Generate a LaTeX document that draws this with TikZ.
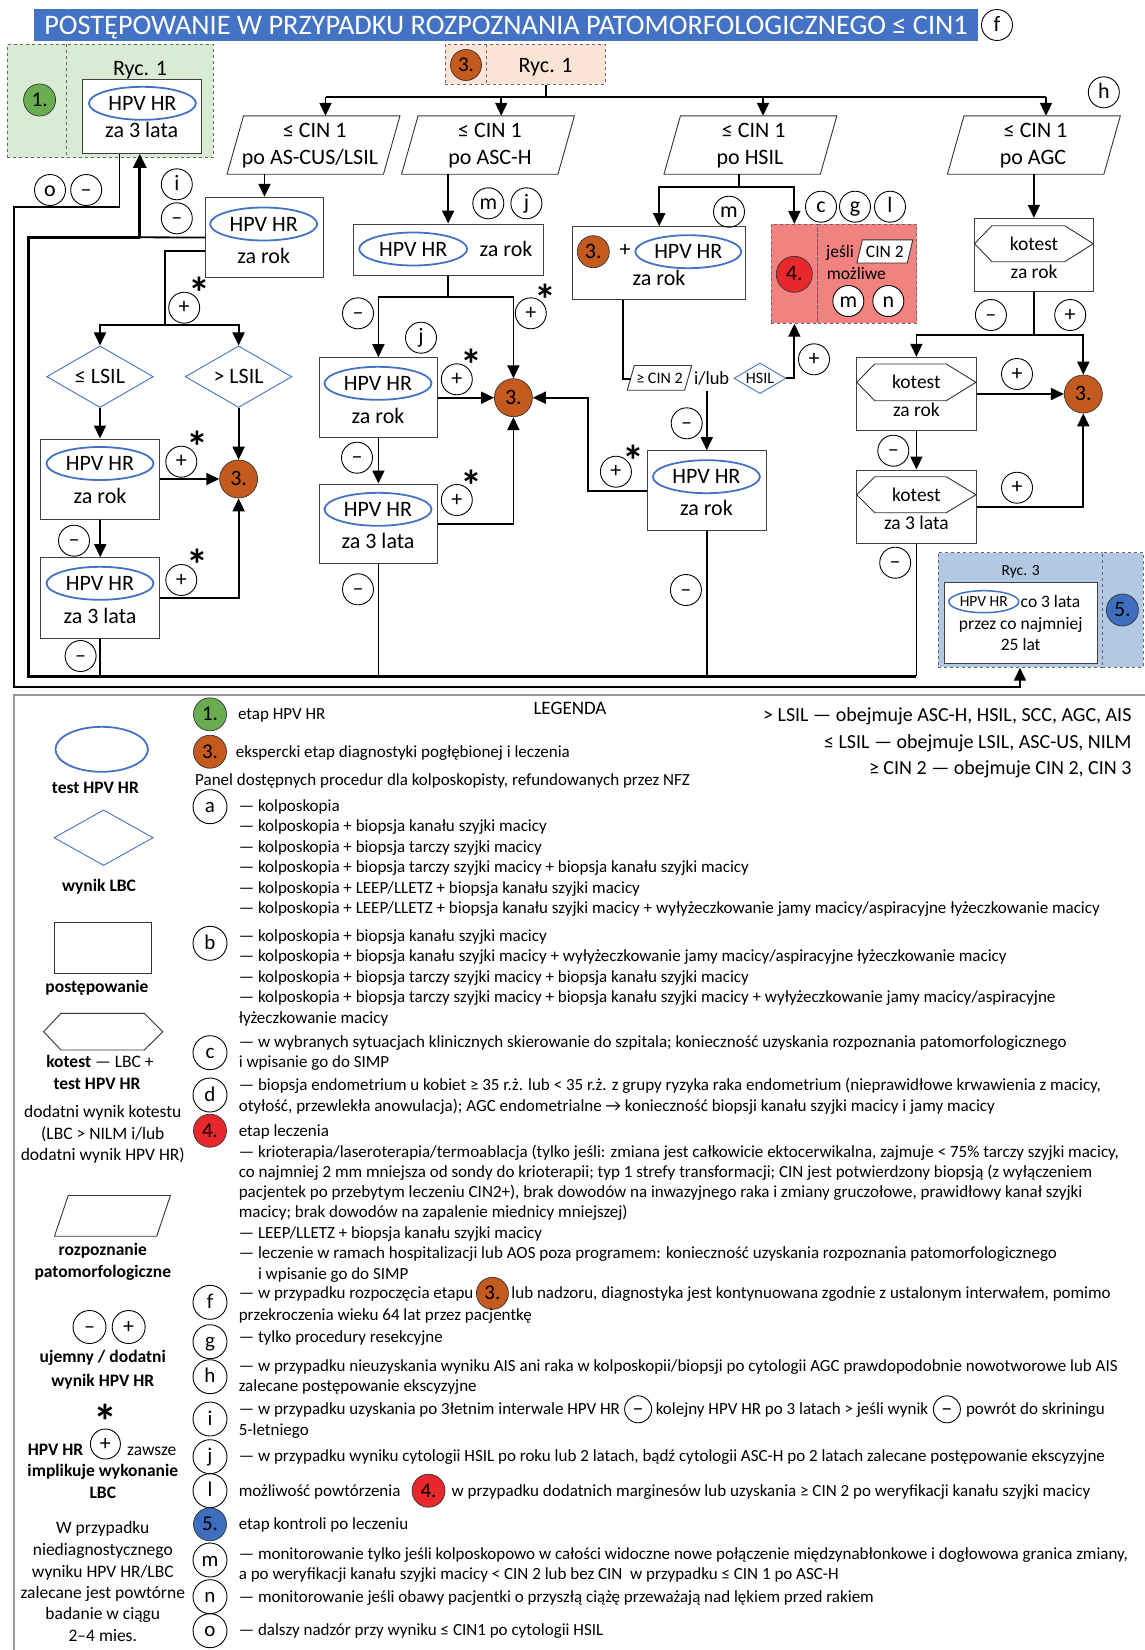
\documentclass[tikz,border=0pt]{standalone}
\usepackage{fontspec}
\setmainfont{Carlito}
\usetikzlibrary{arrows.meta,shapes.geometric,positioning,calc}
\newcommand\fsz[1]{\fontsize{#1}{#1}\selectfont}
\definecolor{hpvblue}{RGB}{68,114,196}
\definecolor{titleblue}{RGB}{68,114,196}
\definecolor{cgreen}{RGB}{106,172,80}
\definecolor{corange}{RGB}{197,90,31}
\definecolor{cred}{RGB}{232,40,44}
\definecolor{cblue}{RGB}{62,110,190}
\definecolor{fgreen}{RGB}{217,236,211}
\definecolor{fpeach}{RGB}{251,228,213}
\definecolor{fsalmon}{RGB}{242,130,128}
\definecolor{fblue}{RGB}{178,200,227}
\definecolor{lgray}{RGB}{150,150,150}
\tikzset{
  ln/.style={line width=1.8pt},
  arr/.style={line width=1.8pt,-{Triangle[length=13pt,width=12pt]}},
  thk/.style={line width=3pt},
  thkarr/.style={line width=3pt,-{Triangle[length=14pt,width=13pt]}},
  box/.style={draw=black!75,line width=1pt,fill=white,inner sep=0pt},
  frame/.style={draw=black!60,dashed,line width=0.8pt,inner sep=0pt},
  pline/.style={draw=black!80,line width=0.9pt,fill=white},
  hexl/.style={draw=black!80,line width=0.9pt},
  lab/.style={circle,draw,line width=0.9pt,minimum size=31pt,inner sep=0pt,font=\fsz{22},text height=12pt,text depth=0pt},
  numc/.style={circle,draw=black!80,line width=0.7pt,minimum size=32pt,inner sep=0pt,font=\fsz{21},text height=13pt,text depth=0pt},
  hpv/.style={ellipse,draw=hpvblue,line width=1.8pt,minimum width=107pt,minimum height=33pt,inner sep=0pt,font=\fsz{22},text height=14pt,text depth=0pt},
  dia/.style={diamond,draw=hpvblue,line width=0.9pt,inner sep=0pt},
  t22/.style={inner sep=0pt,font=\fsz{22},text height=14pt,text depth=0pt},
  t19/.style={inner sep=0pt,font=\fsz{19.5},text height=12.5pt,text depth=0pt},
  t17/.style={inner sep=0pt,font=\fsz{17.5},text height=11.5pt,text depth=0pt},
  t16/.style={inner sep=0pt,font=\fsz{16},text height=10.5pt,text depth=0pt},
  star/.style={inner sep=0pt,font=\bfseries\fsz{44},text height=16pt,text depth=0pt,yshift=-15.3pt},
  lt/.style={anchor=west,inner sep=0pt,font=\fsz{17},text height=11pt,text depth=0pt},
  rt/.style={anchor=east,inner sep=0pt,font=\fsz{20},text height=13pt,text depth=0pt},
  lc/.style={inner sep=0pt,font=\fsz{17.5},text height=11.5pt,text depth=0pt},
  lcb/.style={inner sep=0pt,font=\bfseries\fsz{17.5},text height=11.5pt,text depth=0pt},
  lab2/.style={lab,minimum size=34pt,font=\fsz{21}},
}
\newcommand\paral[6]{%
  \node[inner sep=0pt,minimum width=#4pt,minimum height=#5pt] (#1) at (#2,#3) {};
  \draw[pline] ($(#1.south west)+(-#6/2,0)$) -- ($(#1.north west)+(#6/2,0)$) -- ($(#1.north east)+(#6/2,0)$) -- ($(#1.south east)+(-#6/2,0)$) -- cycle;}
\begin{document}
\begin{tikzpicture}[x=1pt,y=-1pt]
\useasboundingbox (0,0) rectangle (1144,1650);
\fill[white] (0,0) rectangle (1144,1650);
% ---------- title
\node[fill=titleblue,text=white,minimum width=944pt,minimum height=32pt,inner sep=0pt,font=\fsz{28.3},text height=18pt,text depth=0pt] (title) at (506,25.2) {POSTĘPOWANIE W PRZYPADKU ROZPOZNANIA PATOMORFOLOGICZNEGO ≤ CIN1};
\node[lab] (lf) at (997,25) {f};
% ---------- green stage 1
\node[frame,fill=fgreen,minimum width=206pt,minimum height=113.4pt] (gfr) at (110.4,101) {};
\draw[frame] (66.6,44.3) -- (66.6,157.7);
\node[numc,fill=cgreen] (n1) at (39.6,100) {1.};
\node[t22] (ryc1a) at (140,68) {Ryc. 1};
\node[box,minimum width=118.7pt,minimum height=74.3pt] (G1) at (142.25,116.15) {};
\node[hpv] (G1e) at (142.4,103.3) {HPV HR};
\node[t22] (G1t) at (141.7,130.7) {za 3 lata};
% ---------- orange stage 3
\node[frame,fill=fpeach,minimum width=160pt,minimum height=40pt] (ofr) at (525,64.3) {};
\draw[frame] (486.4,44.3) -- (486.4,84.3);
\node[numc,fill=corange,minimum size=31pt] (n3a) at (466,65) {3.};
\node[t22] (ryc1b) at (545.6,65) {Ryc. 1};
% ---------- parallelograms
\paral{pA}{313.5}{145}{156}{58}{16.5}
\paral{pB}{488}{145}{156}{58}{16.5}
\paral{pC}{750.4}{145}{156}{58}{16.5}
\paral{pD}{1033.9}{145}{156}{58}{16.5}
\node[t22] (pA1) at (314.8,130) {≤ CIN 1};
\node[t22] (pA2) at (310,157.7) {po AS-CUS/LSIL};
\node[t22] (pB1) at (490,130) {≤ CIN 1};
\node[t22] (pB2) at (490,157.7) {po ASC-H};
\node[t22] (pC1) at (753.7,130) {≤ CIN 1};
\node[t22] (pC2) at (750,157.7) {po HSIL};
\node[t22] (pD1) at (1035.6,130) {≤ CIN 1};
\node[t22] (pD2) at (1033,157.7) {po AGC};
\node[lab] (lh) at (1103.8,92.3) {h};
% ---------- AS-CUS branch
\node[box,minimum width=118.4pt,minimum height=80.4pt] (bA) at (264.5,237.5) {};
\node[hpv] (bAe) at (263.7,224) {HPV HR};
\node[t22] (bAt) at (263.7,256) {za rok};
\node[dia,minimum width=106.6pt,minimum height=61.6pt] (dL) at (100,376.7) {};
\node[t22] (dLt) at (100,376.7) {≤ LSIL};
\node[dia,minimum width=106.6pt,minimum height=61.6pt] (dG) at (238.6,376.7) {};
\node[t22] (dGt) at (238.6,376.7) {> LSIL};
\node[box,minimum width=119.1pt,minimum height=80pt] (bL1) at (100.25,479) {};
\node[hpv] (bL1e) at (100,463.5) {HPV HR};
\node[t22] (bL1t) at (100,496.7) {za rok};
\node[box,minimum width=119.1pt,minimum height=80.6pt] (bL2) at (100.25,598) {};
\node[hpv] (bL2e) at (100,583.3) {HPV HR};
\node[t22] (bL2t) at (100,616) {za 3 lata};
\node[numc,fill=corange,minimum size=38pt,font=\fsz{22}] (c3L) at (238.6,479) {3.};
% ---------- ASC-H branch
\node[box,minimum width=189.7pt,minimum height=51pt] (bB) at (448.15,249.5) {};
\node[hpv,minimum width=108pt] (bBe) at (413.2,249) {HPV HR};
\node[t22] (bBt) at (506,249) {za rok};
\node[box,minimum width=118.4pt,minimum height=80pt] (bM1) at (378.4,397.7) {};
\node[hpv] (bM1e) at (378,383.3) {HPV HR};
\node[t22] (bM1t) at (378,416) {za rok};
\node[box,minimum width=118.4pt,minimum height=79.3pt] (bM2) at (378.4,523.65) {};
\node[hpv] (bM2e) at (378,509.3) {HPV HR};
\node[t22] (bM2t) at (378,541.7) {za 3 lata};
\node[numc,fill=corange,minimum size=38pt,font=\fsz{22}] (c3M) at (513.4,397.7) {3.};
% ---------- HSIL branch
\node[box,minimum width=173pt,minimum height=72.6pt] (bH1) at (659.2,263) {};
\node[numc,fill=corange,minimum size=32pt,font=\fsz{22}] (bH1n) at (593.3,251.7) {3.};
\node[t22] (bH1p) at (625,249.3) {+};
\node[hpv,minimum width=106pt] (bH1e) at (688.3,251.7) {HPV HR};
\node[t22] (bH1t) at (659,278.3) {za rok};
\node[frame,fill=fsalmon,minimum width=46.7pt,minimum height=99pt] (rL) at (794.35,273.8) {};
\node[frame,fill=fsalmon,minimum width=99pt,minimum height=99pt] (rR) at (867.2,273.8) {};
\node[numc,fill=cred,minimum size=36pt,font=\fsz{22}] (n4a) at (794.3,274.3) {4.};
\node[t17,anchor=west] (rj) at (826,251.7) {jeśli};
\paral{pF}{884.85}{251.4}{50}{22.7}{5.5}
\node[t17] (pFt) at (884.85,251.4) {CIN 2};
\node[t17,anchor=west] (rmoz) at (826.7,274) {możliwe};
\node[lab,fill=white] (lmR) at (848.3,301) {m};
\node[lab,fill=white] (lnR) at (888.3,301) {n};
\paral{pE}{659.5}{377.85}{57}{24.3}{7}
\node[t16] (pEt) at (659.5,378) {≥ CIN 2};
\node[inner sep=0pt,font=\fsz{18.5},text height=12pt,text depth=0pt] (ilub) at (711.7,378) {i/lub};
\node[dia,minimum width=52pt,minimum height=30.6pt] (dH) at (760,378.3) {};
\node[t16] (dHt) at (760,378.3) {HSIL};
\node[box,minimum width=118.5pt,minimum height=80pt] (bH2) at (706.75,490.7) {};
\node[hpv] (bH2e) at (706.4,476.7) {HPV HR};
\node[t22] (bH2t) at (706.4,508.3) {za rok};
% ---------- AGC branch
\node[box,minimum width=118.8pt,minimum height=73.4pt] (bK0) at (1033.9,255) {};
\draw[hexl] (974.5,243.7) -- (992,225.7) -- (1064.7,225.7) -- (1093.3,243.7) -- (1064.7,261.7) -- (992,261.7) -- cycle;
\node[t19] (bK0a) at (1034,244.3) {kotest};
\node[t19] (bK0b) at (1034,272.7) {za rok};
\node[box,minimum width=119.2pt,minimum height=73.4pt] (bK1) at (916.4,394) {};
\draw[hexl] (856.8,382.3) -- (874.7,364) -- (946.2,364) -- (976,382.3) -- (946.2,400.7) -- (874.7,400.7) -- cycle;
\node[t19] (bK1a) at (916.4,382.3) {kotest};
\node[t19] (bK1b) at (916.4,410) {za rok};
\node[box,minimum width=119.2pt,minimum height=73.3pt] (bK2) at (916.4,506.65) {};
\draw[hexl] (856.8,494.7) -- (874.7,476.7) -- (946.2,476.7) -- (976,494.7) -- (946.2,512.7) -- (874.7,512.7) -- cycle;
\node[t19] (bK2a) at (916.4,495) {kotest};
\node[t19] (bK2b) at (916.4,523.3) {za 3 lata};
\node[numc,fill=corange,minimum size=38pt,font=\fsz{22}] (c3K) at (1083.3,394) {3.};
% ---------- Ryc. 3 stage 5
\node[frame,fill=fblue,minimum width=163.9pt,minimum height=114.6pt] (R3L) at (1019.95,610) {};
\node[frame,fill=fblue,minimum width=41.1pt,minimum height=114.6pt] (R3R) at (1122.45,610) {};
\node[inner sep=0pt,font=\fsz{15.5},text height=10pt,text depth=0pt] (R3t) at (1020.7,570) {Ryc. 3};
\node[box,minimum width=152.6pt,minimum height=80.6pt] (R3b) at (1020.7,623) {};
\node[ellipse,draw=hpvblue,line width=1.5pt,minimum width=70pt,minimum height=22pt,inner sep=0pt,font=\fsz{15.5},text height=10pt,text depth=0pt] (R3e) at (983.8,601.7) {HPV HR};
\node[t17] (R3c) at (1050.5,601.7) {co 3 lata};
\node[t17] (R3d) at (1020.7,623.3) {przez co najmniej};
\node[t17] (R3f) at (1020.7,644.3) {25 lat};
\node[numc,fill=cblue,minimum size=32pt,font=\fsz{22}] (n5a) at (1122.4,610) {5.};
% ---------- labels in flowchart
\node[lab] (lo) at (50,190) {o};
\node[lab] (lm1) at (86.2,190) {–};
\node[lab] (li) at (176.8,184.3) {i};
\node[lab] (lm2) at (176.8,218.3) {–};
\node[lab] (lmA) at (488.3,203.3) {m};
\node[lab] (ljA) at (526.4,203.3) {j};
\node[lab] (lp1) at (184.2,307.7) {+};
\node[star] (s1) at (199.7,285) {*};
\node[lab] (lp2) at (181.3,461.7) {+};
\node[star] (s2) at (197.2,439) {*};
\node[lab] (lm3) at (74,540.7) {–};
\node[lab] (lp3) at (181.3,580) {+};
\node[star] (s3) at (197.2,556.7) {*};
\node[lab] (lm4) at (80.6,656) {–};
\node[lab] (lm5) at (358,313.3) {–};
\node[lab] (lp4) at (530.8,313.3) {+};
\node[star] (s4) at (545.6,291.7) {*};
\node[lab] (lj2) at (421,337.7) {j};
\node[lab] (lp5) at (456.8,379.3) {+};
\node[star] (s5) at (471.6,357.3) {*};
\node[lab] (lm6) at (357,457.7) {–};
\node[lab] (lp6) at (456.8,500) {+};
\node[star] (s6) at (471.6,478.3) {*};
\node[lab] (lm7) at (358,589.3) {–};
\node[lab] (lmH) at (729,211.7) {m};
\node[lab] (lc) at (821,206.7) {c};
\node[lab] (lg) at (855,206.7) {g};
\node[lab] (ll) at (890,206.7) {l};
\node[lab] (lpH) at (814,359.3) {+};
\node[lab] (lmH2) at (686.7,423.3) {–};
\node[lab] (lpH2) at (615.9,471.7) {+};
\node[star] (s7) at (633.7,452.7) {*};
\node[lab] (lmH3) at (685.9,590) {–};
\node[lab] (lmK0) at (990.9,315) {–};
\node[lab] (lpK0) at (1070.2,315) {+};
\node[lab] (lpK1) at (1017,374) {+};
\node[lab] (lmK1) at (893.3,450.7) {–};
\node[lab] (lpK2) at (1017,487.7) {+};
\node[lab] (lmK2) at (895.2,562.7) {–};
% ---------- connectors
\coordinate (dist) at (545.6,96.7);
\coordinate (dA) at (325.5,96.7);
\coordinate (dB) at (501.2,96.7);
\coordinate (dC) at (763,96.7);
\coordinate (dD) at (1046,96.7);
\draw[ln] (ofr.south -| ryc1b) -- (dist);
\draw[ln] (dA) -- (dD);
\draw[arr] (dA) -- (dA |- pA.north);
\draw[arr] (dB) -- (dB |- pB.north);
\draw[arr] (dC) -- (dC |- pC.north);
\draw[arr] (dD) -- (dD |- pD.north);
\draw[arr] (pA.south -| bA.north) -- (bA.north);
\draw[arr] (pB.south -| bB.north) -- (bB.north);
\draw[arr] (pD.south -| bK0.north) -- (bK0.north);
% outer loop to stage 5
\coordinate (o1) at (119.5,206.7);
\coordinate (o2) at (14,686.7);
\draw[arr] (G1.south -| o1) -- (o1) -- (o1 -| o2) -- (o2) -| (R3L.south);
% inner thick loop to stage 1
\coordinate (i1) at (28.9,237.3);
\coordinate (i2) at (28.9,676);
\coordinate (iA) at (139.8,237.3);
\draw[ln] (bA.west) -- (iA);
\draw[ln] (bL2.south) -- (bL2.south |- i2);
\draw[ln] (bM2.south) -- (bM2.south |- i2);
\draw[ln] (bH2.south) -- (bH2.south |- i2);
\draw[ln] (bK2.south) -- (bK2.south |- i2);
\draw[thk] (bK2.south |- i2) -- (i2) -- (i1) -- (iA);
\draw[thkarr] (iA) -- (iA |- G1.south);
% AS-CUS
\coordinate (a2) at (164.6,250.7);
\coordinate (jL) at (164.6,325);
\draw[ln] (bA.west |- a2) -- (a2) -- (jL);
\draw[arr] (jL) -| (dL.north);
\draw[arr] (jL) -| (dG.north);
\draw[arr] (dL.south) -- (dL.south |- bL1.north);
\draw[arr] (dG.south) -- (c3L.north);
\draw[arr] (bL1.east) -- (c3L.west);
\draw[arr] (bL1.south) -- (bL2.north);
\draw[arr] (bL2.east) -| (c3L.south);
% ASC-H
\coordinate (jM) at (448.15,296.7);
\draw[ln] (bB.south) -- (jM);
\draw[arr] (jM) -| (bM1.north);
\draw[arr] (jM) -| (c3M.north);
\draw[arr] (bM1.east) -- (c3M.west);
\draw[arr] (bM1.south) -- (bM2.north);
\draw[arr] (bM2.east) -| (c3M.south);
% HSIL
\coordinate (hC) at (739.3,187.3);
\draw[ln] (pC.south -| hC) -- (hC);
\draw[arr] (hC) -| (bH1.north);
\draw[arr] (hC) -| (rL.north);
\coordinate (h1) at (623.3,379.3);
\draw[ln] (bH1.south -| h1) -- (h1) -- (pE.west |- h1);
\draw[arr] (dH.east) -| (rL.south);
\draw[arr] ([yshift=-7pt]ilub.south -| bH2.north) -- (bH2.north);
\coordinate (k1) at (588,397.7);
\draw[arr] (bH2.west) -| (k1) -- (c3M.east);
% AGC
\coordinate (jK) at (1033.9,335);
\draw[ln] (bK0.south) -- (jK);
\draw[arr] (jK) -| (bK1.north);
\draw[arr] (jK) -| (c3K.north);
\draw[arr] (bK1.east) -- (c3K.west);
\draw[arr] (bK1.south) -- (bK2.north);
\draw[arr] (bK2.east) -| (c3K.south);
% ================= LEGEND
\draw[lgray,line width=2pt] (14,1652) -- (14,695) -- (1146,695);
\node[inner sep=0pt,font=\fsz{19},text height=12.5pt,text depth=0pt] (legT) at (570,708.3) {LEGENDA};
\node[rt] (rl1) at (1131.7,715) {> LSIL — obejmuje ASC-H, HSIL, SCC, AGC, AIS};
\node[rt] (rl2) at (1131.7,741.7) {≤ LSIL — obejmuje LSIL, ASC-US, NILM};
\node[rt] (rl3) at (1131.7,768.3) {≥ CIN 2 — obejmuje CIN 2, CIN 3};
% left column
\node[ellipse,draw=hpvblue,line width=1.8pt,minimum width=92.5pt,minimum height=45pt,inner sep=0pt] (legE) at (101.7,749.3) {};
\node[lcb] (legEt) at (95.4,787.7) {test HPV HR};
\node[dia,minimum width=99.2pt,minimum height=55.6pt] (legD) at (103.6,837.7) {};
\node[lcb] (legDt) at (99,885.7) {wynik LBC};
\node[box,draw=black!80,minimum width=97pt,minimum height=51pt] (legR) at (103.2,947.8) {};
\node[lcb] (legRt) at (97,986.7) {postępowanie};
\draw[hexl] (43.6,1031.7) -- (61,1013.3) -- (144.3,1013.3) -- (162.8,1031.7) -- (144.3,1050) -- (61,1050) -- cycle;
\node[lc] (legH1) at (100,1061.7) {\bfseries kotest \mdseries — LBC +};
\node[lcb] (legH2) at (97,1083.3) {test HPV HR};
\node[lc] (legK1) at (102.8,1111.7) {dodatni wynik kotestu};
\node[lc] (legK2) at (102.8,1133.3) {(LBC > NILM i/lub};
\node[lc] (legK3) at (102.8,1155) {dodatni wynik HPV HR)};
\paral{legP}{112.45}{1215.85}{101.8}{40.3}{13.7}
\node[lcb] (legP1) at (102.8,1250) {rozpoznanie};
\node[lcb] (legP2) at (102.8,1271.7) {patomorfologiczne};
\node[lab,minimum size=33pt] (legm) at (89.5,1327) {–};
\node[lab,minimum size=33pt] (legp) at (128.7,1327) {+};
\node[lcb] (legU1) at (102.8,1356.5) {ujemny / dodatni};
\node[lcb] (legU2) at (102.8,1380.5) {wynik HPV HR};
\node[inner sep=0pt,font=\bfseries\fsz{48},text height=18pt,text depth=0pt,yshift=-16.4pt] (legS) at (105.4,1413.3) {*};
\node[lcb] (legS1) at (55.5,1449.3) {HPV HR};
\node[lab,minimum size=30pt] (legSp) at (105.4,1444) {+};
\node[lc] (legS2) at (151.7,1449.3) {zawsze};
\node[lcb] (legS3) at (102.8,1471) {implikuje wykonanie};
\node[lcb] (legS4) at (102.8,1492.7) {LBC};
\node[lc] (legW1) at (102.8,1527.7) {W przypadku};
\node[lc] (legW2) at (102.8,1549.3) {niediagnostycznego};
\node[lc] (legW3) at (102.8,1571.3) {wyniku HPV HR/LBC};
\node[lc] (legW4) at (102.8,1592.7) {zalecane jest powtórne};
\node[lc] (legW5) at (102.8,1614) {badanie w ciągu};
\node[lc] (legW6) at (102.8,1635.7) {2–4 mies.};
% right column: circles
\node[numc,fill=cgreen,minimum size=33pt] (Lk1) at (210,714.3) {1.};
\node[lt] (Lt1) at (237.8,714.3) {etap HPV HR};
\node[numc,fill=corange,minimum size=33pt] (Lk3) at (210,751.7) {3.};
\node[lt] (Lt3) at (235.6,751.7) {ekspercki etap diagnostyki pogłębionej i leczenia};
\node[lt] (Lpan) at (195,780) {Panel dostępnych procedur dla kolposkopisty, refundowanych przez NFZ};
\node[lab2] (La) at (210,806.7) {a};
\node[lt] (La1) at (238.6,806) {— kolposkopia};
\node[lt] (La2) at (238.6,826.4) {— kolposkopia + biopsja kanału szyjki macicy};
\node[lt] (La3) at (238.6,846.8) {— kolposkopia + biopsja tarczy szyjki macicy};
\node[lt] (La4) at (238.6,867.2) {— kolposkopia + biopsja tarczy szyjki macicy + biopsja kanału szyjki macicy};
\node[lt] (La5) at (238.6,887.6) {— kolposkopia + LEEP/LLETZ + biopsja kanału szyjki macicy};
\node[lt] (La6) at (238.6,908) {— kolposkopia + LEEP/LLETZ + biopsja kanału szyjki macicy + wyłyżeczkowanie jamy macicy/aspiracyjne łyżeczkowanie macicy};
\node[lab2] (Lb) at (210,943.3) {b};
\node[lt] (Lb1) at (238.6,936) {— kolposkopia + biopsja kanału szyjki macicy};
\node[lt] (Lb2) at (238.6,956.4) {— kolposkopia + biopsja kanału szyjki macicy + wyłyżeczkowanie jamy macicy/aspiracyjne łyżeczkowanie macicy};
\node[lt] (Lb3) at (238.6,976.8) {— kolposkopia + biopsja tarczy szyjki macicy + biopsja kanału szyjki macicy};
\node[lt] (Lb4) at (238.6,997.2) {— kolposkopia + biopsja tarczy szyjki macicy + biopsja kanału szyjki macicy + wyłyżeczkowanie jamy macicy/aspiracyjne};
\node[lt] (Lb5) at (238.6,1017.6) {łyżeczkowanie macicy};
\node[lab2] (Lc) at (210,1052.7) {c};
\node[lt] (Lc1) at (238.6,1041.7) {— w wybranych sytuacjach klinicznych skierowanie do szpitala; konieczność uzyskania rozpoznania patomorfologicznego};
\node[lt] (Lc2) at (238.6,1061.7) {i wpisanie go do SIMP};
\node[lab2] (Ld) at (210,1095) {d};
\node[lt] (Ld1) at (238.6,1085) {— biopsja endometrium u kobiet ≥ 35 r.ż. lub < 35 r.ż. z grupy ryzyka raka endometrium (nieprawidłowe krwawienia z macicy,};
\node[lt] (Ld2) at (238.6,1106) {otyłość, przewlekła anowulacja); AGC endometrialne → konieczność biopsji kanału szyjki macicy i jamy macicy};
\node[numc,fill=cred,minimum size=33pt] (Lk4) at (210,1130.7) {4.};
\node[lt] (L41) at (238.6,1130.7) {etap leczenia};
\node[lt] (L42) at (238.6,1151.7) {— krioterapia/laseroterapia/termoablacja (tylko jeśli: zmiana jest całkowicie ektocerwikalna, zajmuje < 75\% tarczy szyjki macicy,};
\node[lt] (L43) at (238.6,1172.3) {co najmniej 2 mm mniejsza od sondy do krioterapii; typ 1 strefy transformacji; CIN jest potwierdzony biopsją (z wyłączeniem};
\node[lt] (L44) at (238.6,1192.3) {pacjentek po przebytym leczeniu CIN2+), brak dowodów na inwazyjnego raka i zmiany gruczołowe, prawidłowy kanał szyjki};
\node[lt] (L45) at (238.6,1212.3) {macicy; brak dowodów na zapalenie miednicy mniejszej)};
\node[lt] (L46) at (238.6,1232.7) {— LEEP/LLETZ + biopsja kanału szyjki macicy};
\node[lt] (L47) at (238.6,1253.3) {— leczenie w ramach hospitalizacji lub AOS poza programem: konieczność uzyskania rozpoznania patomorfologicznego};
\node[lt] (L48) at (257.8,1274) {i wpisanie go do SIMP};
\node[lab2] (Lf) at (210,1302.3) {f};
\node[lt] (Lf1) at (238.6,1293.3) {— w przypadku rozpoczęcia etapu};
\node[numc,fill=corange,minimum size=32pt,right=2.5pt of Lf1] (Lf3) {3.};
\node[lt,right=2.5pt of Lf3] (Lf2) {lub nadzoru, diagnostyka jest kontynuowana zgodnie z ustalonym interwałem, pomimo};
\node[lt] (Lf4) at (238.6,1315) {przekroczenia wieku 64 lat przez pacjentkę};
\node[lab2] (Lg) at (210,1341.7) {g};
\node[lt] (Lg1) at (238.6,1337.3) {— tylko procedury resekcyjne};
\node[lab2] (Lh) at (210,1376.7) {h};
\node[lt] (Lh1) at (238.6,1366) {— w przypadku nieuzyskania wyniku AIS ani raka w kolposkopii/biopsji po cytologii AGC prawdopodobnie nowotworowe lub AIS};
\node[lt] (Lh2) at (238.6,1385.7) {zalecane postępowanie ekscyzyjne};
\node[lab2] (Li) at (210,1419) {i};
\node[lt] (Li1) at (238.6,1409.3) {— w przypadku uzyskania po 3łetnim interwale HPV HR};
\node[lab,minimum size=27pt,right=4pt of Li1] (Li2) {–};
\node[lt,right=3.5pt of Li2] (Li3) {kolejny HPV HR po 3 latach > jeśli wynik};
\node[lab,minimum size=27pt,right=4.5pt of Li3] (Li4) {–};
\node[lt,right=5pt of Li4] (Li5) {powrót do skriningu};
\node[lt] (Li6) at (238.6,1430) {5-letniego};
\node[lab2] (Lj) at (210,1456.7) {j};
\node[lt] (Lj1) at (238.6,1456) {— w przypadku wyniku cytologii HSIL po roku lub 2 latach, bądź cytologii ASC-H po 2 latach zalecane postępowanie ekscyzyjne};
\node[lab2] (Ll) at (210,1490.7) {l};
\node[lt] (Ll1) at (238.6,1490.7) {możliwość powtórzenia};
\node[numc,fill=cred,minimum size=33pt,right=11pt of Ll1] (Ll4) {4.};
\node[lt,right=6pt of Ll4] (Ll2) {w przypadku dodatnich marginesów lub uzyskania ≥ CIN 2 po weryfikacji kanału szyjki macicy};
\node[numc,fill=cblue,minimum size=33pt] (Lk5) at (210,1524.3) {5.};
\node[lt] (L51) at (238.6,1524.3) {etap kontroli po leczeniu};
\node[lab2] (Lm) at (210,1560) {m};
\node[lt] (Lm1) at (238.6,1554.3) {— monitorowanie tylko jeśli kolposkopowo w całości widoczne nowe połączenie międzynabłonkowe i dogłowowa granica zmiany,};
\node[lt] (Lm2) at (238.6,1574.3) {a po weryfikacji kanału szyjki macicy < CIN 2 lub bez CIN \ w przypadku ≤ CIN 1 po ASC-H};
\node[lab2] (Ln) at (210,1596.7) {n};
\node[lt] (Ln1) at (238.6,1596.7) {— monitorowanie jeśli obawy pacjentki o przyszłą ciążę przeważają nad lękiem przed rakiem};
\node[lab2] (Lo) at (210,1630.7) {o};
\node[lt] (Lo1) at (238.6,1630) {— dalszy nadzór przy wyniku ≤ CIN1 po cytologii HSIL};
\end{tikzpicture}
\end{document}
